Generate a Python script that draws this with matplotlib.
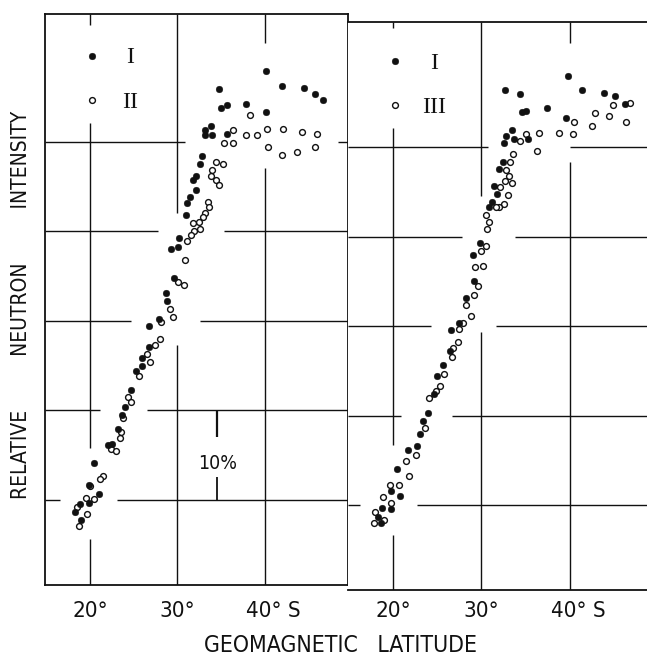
import numpy as np
import matplotlib.pyplot as plt

# ---- data (latitude in deg S, relative intensity in %) ----
# left panel, series I (filled)
latL_I = [40.1, 34.8, 41.9, 44.5, 45.7, 46.6, 35.0, 35.7, 37.8, 40.1, 33.8, 33.2,
          33.1, 33.9, 35.7, 32.8, 32.6, 32.1, 31.8, 32.1, 31.4, 31.1, 31.0, 30.2,
          30.1, 29.3, 29.6, 28.7, 28.8, 26.8, 27.9, 26.8, 25.9, 25.9, 25.3, 24.7,
          24.0, 23.7, 23.2, 22.5, 22.0, 20.4, 21.0, 19.9, 18.9, 19.9, 18.3, 19.0]
intL_I = [127.9, 125.9, 126.3, 126.0, 125.4, 124.7, 123.8, 124.1, 124.2, 123.3, 121.8, 121.3,
          120.8, 120.8, 120.9, 118.4, 117.5, 116.2, 115.8, 114.6, 113.8, 113.2, 111.8, 109.3,
          108.3, 108.0, 104.8, 103.1, 102.2, 99.4, 100.2, 97.1, 95.9, 95.0, 94.4, 92.3,
          90.4, 89.5, 87.9, 86.3, 86.1, 84.1, 80.7, 81.7, 79.6, 79.7, 78.6, 77.8]

# left panel, series II (open)
latL_II = [38.3, 36.4, 37.8, 39.1, 40.2, 42.1, 44.2, 45.9, 35.3, 36.3, 40.4, 42.0,
           43.7, 45.7, 34.4, 35.2, 33.9, 33.8, 34.4, 34.8, 33.5, 33.6, 33.2, 32.9,
           32.5, 31.8, 32.6, 31.9, 31.6, 31.1, 30.9, 30.1, 30.7, 29.2, 29.5, 28.1,
           28.0, 27.4, 26.5, 26.9, 25.6, 24.3, 24.7, 23.8, 23.5, 23.4, 22.4, 23.0,
           21.5, 21.1, 20.0, 20.5, 19.5, 18.5, 19.7, 18.7]
intL_II = [123.0, 121.3, 120.8, 120.8, 121.4, 121.4, 121.1, 120.9, 119.9, 119.9, 119.4, 118.5,
           118.9, 119.4, 117.8, 117.5, 116.9, 116.2, 115.8, 115.2, 113.3, 112.7, 112.1, 111.6,
           111.1, 110.9, 110.3, 110.1, 109.6, 108.9, 106.8, 104.4, 104.0, 101.3, 100.4, 99.9,
           98.0, 97.3, 96.3, 95.4, 93.8, 91.5, 90.9, 89.2, 87.6, 86.9, 85.7, 85.5,
           82.7, 82.3, 81.6, 80.1, 80.2, 79.2, 78.4, 77.1]

# right panel, series I (filled)
latR_I = [39.8, 32.6, 34.4, 41.4, 43.8, 45.1, 34.6, 35.0, 37.4, 39.5, 46.2, 33.4,
          32.8, 32.5, 33.7, 35.3, 32.4, 32.0, 31.4, 31.7, 31.2, 30.8, 29.8, 29.0,
          29.2, 28.2, 27.5, 26.6, 26.4, 25.7, 25.0, 24.6, 24.0, 23.4, 23.0, 22.7,
          21.7, 20.5, 19.8, 20.8, 18.8, 19.8, 18.3, 18.7]
intR_I = [128.0, 126.4, 126.0, 126.4, 126.1, 125.7, 123.9, 124.1, 124.4, 123.3, 124.8, 121.9,
          121.3, 120.5, 120.9, 120.9, 118.4, 117.6, 115.7, 114.8, 113.9, 113.3, 109.3, 108.0,
          105.0, 103.1, 100.4, 99.6, 97.2, 95.7, 94.4, 92.4, 90.3, 89.4, 87.9, 86.6,
          86.1, 84.0, 81.6, 81.0, 79.7, 79.6, 78.7, 78.0]

# right panel, series III (open)
latR_III = [44.9, 46.8, 42.8, 44.4, 46.3, 40.5, 42.5, 38.8, 40.3, 36.5, 35.0, 34.4,
            36.3, 33.6, 33.2, 32.8, 33.1, 32.7, 33.5, 32.1, 33.0, 32.5, 32.0, 31.6,
            30.5, 30.8, 30.6, 30.5, 29.9, 29.3, 30.2, 29.6, 29.2, 28.3, 28.8, 27.9,
            27.5, 27.3, 26.8, 26.7, 25.8, 25.3, 24.9, 24.1, 23.6, 22.6, 21.5, 21.8,
            19.7, 20.7, 18.9, 19.8, 18.0, 19.0, 17.9]
intR_III = [124.7, 125.0, 123.8, 123.5, 122.8, 122.8, 122.4, 121.6, 121.5, 121.6, 121.5, 120.7,
            119.6, 119.2, 118.3, 117.5, 116.8, 116.2, 116.0, 115.6, 114.7, 113.6, 113.3, 113.3,
            112.4, 111.6, 110.9, 109.0, 108.4, 106.6, 106.7, 104.5, 103.5, 102.4, 101.1, 100.3,
            99.7, 98.2, 97.6, 96.5, 94.6, 93.3, 92.7, 92.0, 88.6, 85.6, 84.9, 83.2,
            82.2, 82.2, 80.9, 80.2, 79.2, 78.3, 78.0]

lat_ticks = [20, 30, 40]
tick_labels = ["20°", "30°", "40° S"]
grid_levels = [80, 90, 100, 110, 120]

ink = "#111111"
sans = dict(family="DejaVu Sans", fontstretch="condensed", color=ink)

fig = plt.figure(figsize=(6.47, 6.57), dpi=100)
axL = fig.add_axes([0.0696, 0.1096, 0.4683, 0.8691])
axR = fig.add_axes([0.5379, 0.1020, 0.4621, 0.8645])
axL.set_xlim(14.86, 49.49)
axL.set_ylim(70.5, 134.3)
axR.set_xlim(14.92, 48.70)
axR.set_ylim(70.5, 134.0)

# broken grid lines as drawn in the original (gaps around the points)
gridL_h = {120: [(14.86, 30.9), (48.3, 49.49)], 110: [(14.86, 27.8), (35.3, 49.49)],
           100: [(14.86, 24.7), (32.6, 49.49)], 90: [(14.86, 21.1), (26.5, 49.49)],
           80: [(14.86, 16.6), (23.1, 49.49)]}
gridL_v = {20: [(133.1, 134.3), (85.8, 122.1), (70.5, 75.6)],
           30: [(112.1, 134.3), (70.5, 97.3)],
           40: [(131.1, 134.3), (70.5, 117.1)]}
gridR_h = {120: [(14.92, 30.7), (40.0, 48.7)], 110: [(14.92, 27.8), (33.8, 48.7)],
           100: [(14.92, 24.3), (31.6, 48.7)], 90: [(14.92, 20.9), (26.7, 48.7)],
           80: [(14.92, 16.3), (22.7, 48.7)]}
gridR_v = {20: [(133.3, 134.0), (86.7, 122.1), (70.5, 76.6)],
           30: [(114.6, 134.0), (70.5, 99.3)],
           40: [(131.7, 134.0), (70.5, 118.3)]}

for ax, gh, gv in [(axL, gridL_h, gridL_v), (axR, gridR_h, gridR_v)]:
    for lev in grid_levels:
        for a, b in gh[lev]:
            ax.hlines(lev, a, b, color=ink, lw=1.0, zorder=1)
    for lat in lat_ticks:
        for a, b in gv[lat]:
            ax.vlines(lat, a, b, color=ink, lw=1.0, zorder=1)
    ax.set_xticks([])
    ax.set_yticks([])
    for s in ax.spines.values():
        s.set_linewidth(1.3)
        s.set_color(ink)

axR.spines["left"].set_visible(False)
axR.spines["right"].set_visible(False)

filled = dict(marker="o", ls="none", ms=4.8, mfc=ink, mec=ink, mew=0.3, zorder=3)
opened = dict(marker="o", ls="none", ms=4.2, mfc="white", mec=ink, mew=1.0, zorder=3)

axL.plot(latL_II, intL_II, **opened)
axL.plot(latL_I, intL_I, **filled)
axR.plot(latR_III, intR_III, **opened)
axR.plot(latR_I, intR_I, **filled)

# legends inside each panel
for ax, second in [(axL, "II"), (axR, "III")]:
    ax.plot([20.2], [129.6], **filled)
    ax.plot([20.2], [124.7], **opened)
    ax.text(24.6, 129.4, "I", family="Liberation Serif", fontsize=17,
            ha="center", va="center", color=ink)
    ax.text(24.6, 124.4, second, family="Liberation Serif", fontsize=17,
            ha="center", va="center", color=ink)

# 10 % scale bar
axL.vlines(34.57, 87.0, 89.9, color=ink, lw=1.6)
axL.vlines(34.57, 80.0, 82.6, color=ink, lw=1.3)
axL.text(34.6, 84.1, "10%", fontsize=14, ha="center", va="center", **sans)

# tick labels under each panel
for ax, dy in [(axL, -19), (axR, -15)]:
    for lat, lab in zip(lat_ticks, tick_labels):
        if lab.endswith("S"):
            ax.annotate(lab, xy=(lat, 0), xycoords=("data", "axes fraction"),
                        xytext=(-14, dy), textcoords="offset points",
                        ha="left", va="center", fontsize=16, **sans)
        else:
            ax.annotate(lab, xy=(lat, 0), xycoords=("data", "axes fraction"),
                        xytext=(0, dy), textcoords="offset points",
                        ha="center", va="center", fontsize=16, **sans)

fig.text(340 / 647, 1 - 646 / 657, "GEOMAGNETIC   LATITUDE", fontsize=16.5,
         ha="center", va="center", **sans)
fig.text(21 / 647, 1 - 305 / 657, "RELATIVE         NEUTRON         INTENSITY",
         rotation=90, fontsize=15, ha="center", va="center", **sans)

fig.savefig("out.png", dpi=100, facecolor="white")
